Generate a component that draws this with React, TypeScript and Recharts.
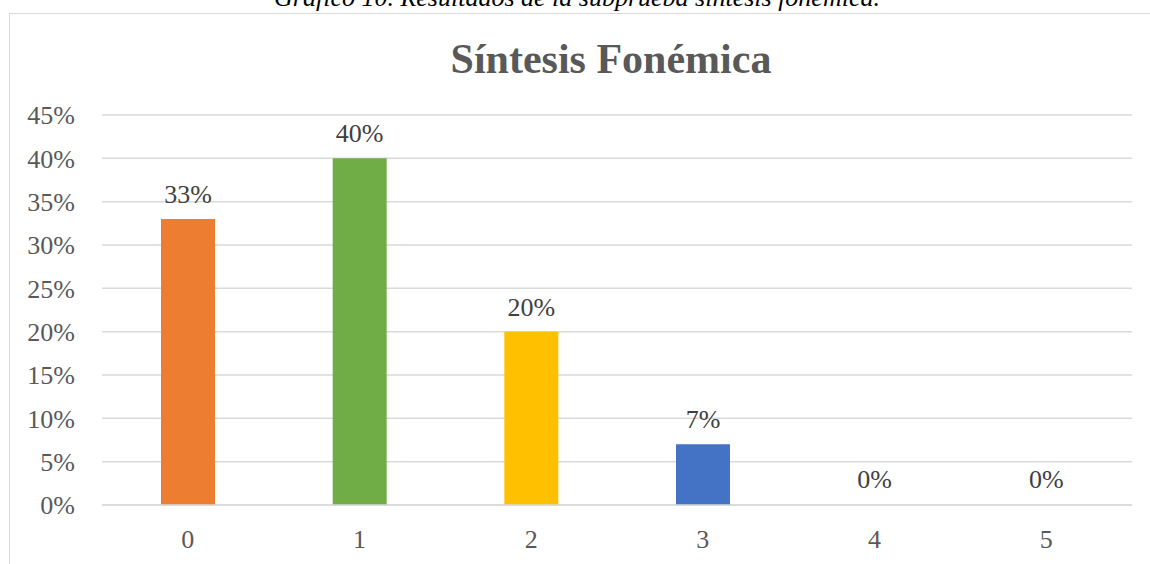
import { Bar, BarChart, CartesianGrid, Cell, LabelList, XAxis, YAxis } from "recharts";

const categories = ["0", "1", "2", "3", "4", "5"];
const percents = [33, 40, 20, 7, 0, 0];
const barColors = ["#ED7D31", "#70AD47", "#FFC000", "#4472C4", "#A5A5A5", "#5B9BD5"];
const yTicks = [0, 5, 10, 15, 20, 25, 30, 35, 40, 45];

const data = categories.map((c, i) => ({ cat: c, value: percents[i] }));

const serif = "'Liberation Serif', 'Times New Roman', serif";
const tickStyle = { fontFamily: serif, fontSize: 26, fill: "#595959" };
const grid = "#d9d9d9";

export default function App() {
  return (
    <div style={{ position: "absolute", top: 0, left: 0, width: 1150, height: 564, overflow: "hidden", background: "#fff" }}>
      {/* document caption, cut off at the top */}
      <div
        style={{
          position: "absolute", top: -17, left: 0, width: 1154, textAlign: "center",
          fontFamily: serif, fontStyle: "italic", fontSize: 26, color: "#000", lineHeight: "30px", whiteSpace: "nowrap",
        }}
      >
        Gráfico 10. Resultados de la subprueba síntesis fonémica.
      </div>
      {/* chart frame */}
      <div style={{ position: "absolute", top: 13, left: 9, width: 1160, height: 580, border: `1.5px solid ${grid}`, boxSizing: "border-box" }} />
      <div
        style={{
          position: "absolute", top: 35, left: 0, width: 1222, textAlign: "center",
          fontFamily: serif, fontWeight: "bold", fontSize: 42, color: "#595959", lineHeight: "48px", whiteSpace: "nowrap",
        }}
      >
        Síntesis Fonémica
      </div>
      <div style={{ position: "absolute", top: 0, left: 0 }}>
        <BarChart width={1150} height={564} data={data} margin={{ top: 115, right: 18, left: 0, bottom: 0 }}>
          <CartesianGrid vertical={false} stroke={grid} strokeWidth={1.5} />
          <XAxis
            dataKey="cat" height={59} tickLine={false} axisLine={{ stroke: grid, strokeWidth: 1.5 }}
            tickSize={0} tickMargin={25} tick={tickStyle}
          />
          <YAxis
            domain={[0, 45]} ticks={yTicks} width={102} interval={0}
            axisLine={false} tickLine={false} tickSize={0} tickMargin={27}
            tickFormatter={(v) => `${v}%`} tick={tickStyle}
          />
          <Bar dataKey="value" barSize={54} minPointSize={(v) => (v === 0 ? 1 : 0)} isAnimationActive={false}>
            {data.map((d, i) => <Cell key={d.cat} fill={d.value > 0 ? barColors[i] : "transparent"} />)}
            <LabelList
              dataKey="value" position="top" offset={16}
              formatter={(v) => `${v}%`}
              style={{ fontFamily: serif, fontSize: 26, fill: "#404040" }}
            />
          </Bar>
        </BarChart>
      </div>
    </div>
  );
}
